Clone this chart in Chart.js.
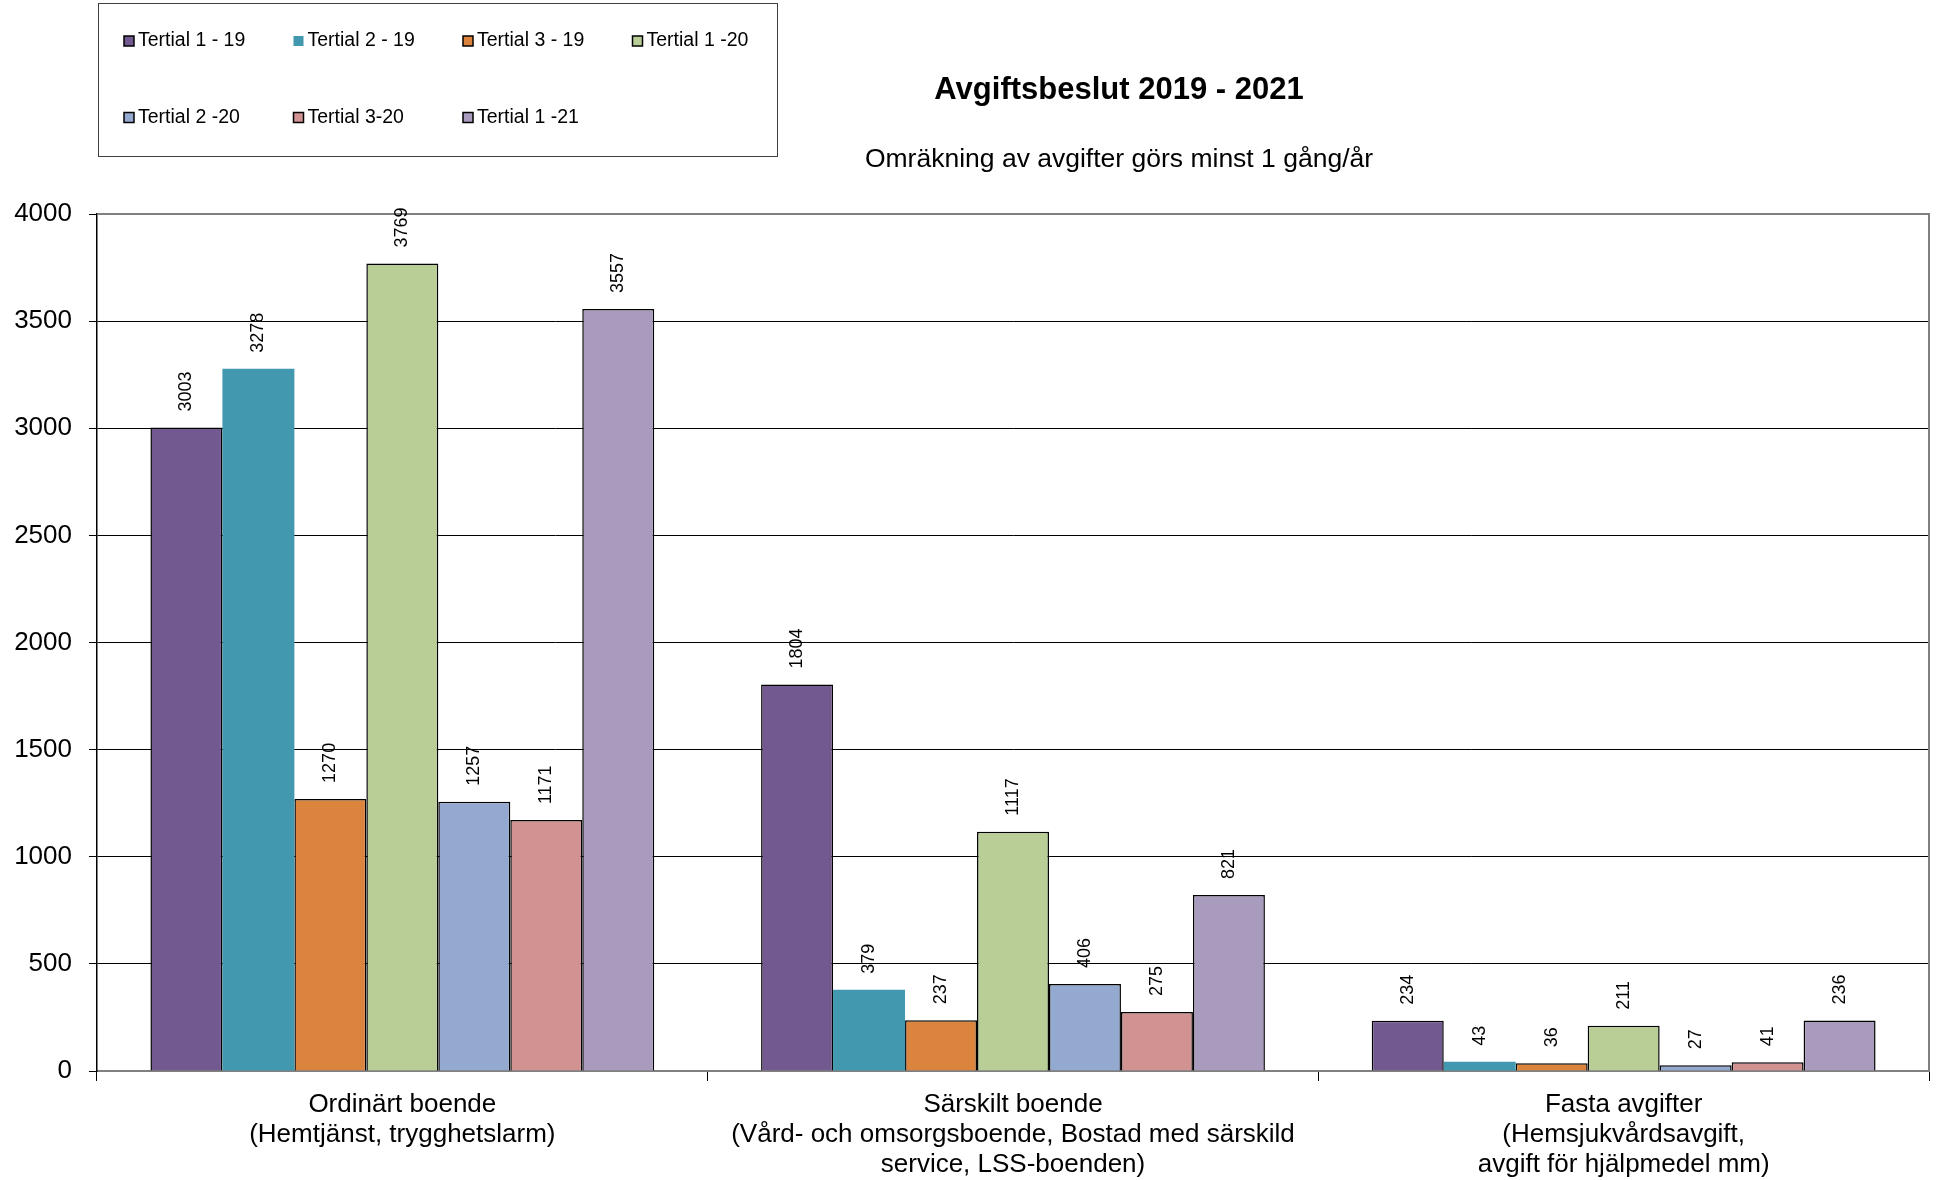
<!DOCTYPE html>
<html lang="sv">
  <head>
    <meta charset="UTF-8" />
    <title>Avgiftsbeslut 2019 - 2021</title>
    <script src="https://cdn.jsdelivr.net/npm/chart.js"></script>
    <style>
      html,
      body {
        margin: 0;
        padding: 0;
        background: #ffffff;
      }
      #wrap {
        width: 1939px;
        height: 1180px;
      }
    </style>
  </head>
  <body>
    <div id="wrap"><canvas id="grafAvgifter"></canvas></div>

    <script>
      // Kategorier (x-axeln)
      const kategorier = [
        ["Ordinärt boende", "(Hemtjänst, trygghetslarm)"],
        ["Särskilt boende", "(Vård- och omsorgsboende, Bostad med särskild", "service, LSS-boenden)"],
        ["Fasta avgifter", "(Hemsjukvårdsavgift,", "avgift för hjälpmedel mm)"],
      ];

      // Serier
      const serieNamn = [
        "Tertial 1 - 19",
        "Tertial 2 - 19",
        "Tertial 3 - 19",
        "Tertial 1 -20",
        "Tertial 2 -20",
        "Tertial 3-20",
        "Tertial 1 -21",
      ];
      const tertial1_19 = [3003, 1804, 234];
      const tertial2_19 = [3278, 379, 43];
      const tertial3_19 = [1270, 237, 36];
      const tertial1_20 = [3769, 1117, 211];
      const tertial2_20 = [1257, 406, 27];
      const tertial3_20 = [1171, 275, 41];
      const tertial1_21 = [3557, 821, 236];

      const yMin = 0;
      const yMax = 4000;
      const yStep = 500;

      const farger = ["#725990", "#4198af", "#db843d", "#b9cd96", "#93a9cf", "#d19392", "#a99bbd"];
      const serier = [tertial1_19, tertial2_19, tertial3_19, tertial1_20, tertial2_20, tertial3_20, tertial1_21];

      const FONT = "'Liberation Sans', Arial, sans-serif";

      // Rubrik, underrubrik, förklaring och värdeetiketter
      const ritaExtra = {
        id: "ritaExtra",
        afterDatasetsDraw(chart) {
          const ctx = chart.ctx;
          const area = chart.chartArea;
          ctx.save();

          // ram runt diagramytan (grå topp och höger)
          ctx.strokeStyle = "#808080";
          ctx.lineWidth = 2;
          ctx.beginPath();
          ctx.moveTo(area.left, area.top);
          ctx.lineTo(area.right, area.top);
          ctx.lineTo(area.right, area.bottom);
          ctx.stroke();

          // värdeetiketter, roterade
          ctx.fillStyle = "#000";
          ctx.font = "18px " + FONT;
          ctx.textAlign = "left";
          ctx.textBaseline = "middle";
          chart.data.datasets.forEach((ds, i) => {
            const meta = chart.getDatasetMeta(i);
            meta.data.forEach((bar, j) => {
              ctx.save();
              ctx.translate(bar.x, bar.y - 16);
              ctx.rotate(-Math.PI / 2);
              ctx.fillText(String(ds.data[j]), 0, 0);
              ctx.restore();
            });
          });

          // rubrik
          ctx.textAlign = "center";
          ctx.textBaseline = "alphabetic";
          ctx.font = "bold 31px " + FONT;
          ctx.fillText("Avgiftsbeslut 2019 - 2021", 1119, 99);
          ctx.font = "26.5px " + FONT;
          ctx.fillText("Omräkning av avgifter görs minst 1 gång/år", 1119, 167);

          // förklaring
          ctx.strokeStyle = "#404040";
          ctx.lineWidth = 1;
          ctx.strokeRect(98.5, 3.5, 679, 153);
          ctx.font = "19.5px " + FONT;
          ctx.textAlign = "left";
          ctx.textBaseline = "middle";
          chart.data.datasets.forEach((ds, i) => {
            const kol = i % 4;
            const rad = Math.floor(i / 4);
            const x = 124 + kol * 169.5;
            const y = 41 + rad * 76.5;
            ctx.fillStyle = ds.backgroundColor;
            ctx.fillRect(x, y - 5, 10, 10);
            if (ds.borderWidth > 0) {
              ctx.strokeStyle = "#000";
              ctx.lineWidth = 1.5;
              ctx.strokeRect(x, y - 5, 10, 10);
            }
            ctx.fillStyle = "#000";
            ctx.fillText(ds.label, x + 14, y);
          });

          ctx.restore();
        },
      };

      const datasets = serier.map((data, i) => ({
        label: serieNamn[i],
        data: data,
        backgroundColor: farger[i],
        borderColor: "#000000",
        borderWidth: i === 1 ? 0 : 1.5,
        borderSkipped: "bottom",
        categoryPercentage: 0.825,
        barPercentage: 1.0,
      }));

      new Chart(document.getElementById("grafAvgifter").getContext("2d"), {
        type: "bar",
        data: {
          labels: kategorier,
          datasets: datasets,
        },
        plugins: [ritaExtra],
        options: {
          responsive: true,
          maintainAspectRatio: false,
          animation: false,
          layout: {
            padding: { top: 214, right: 10, bottom: 0, left: 14 },
          },
          plugins: {
            legend: { display: false },
            title: { display: false },
            tooltip: { enabled: false },
          },
          scales: {
            x: {
              afterFit: (scale) => {
                scale.height = 109;
              },
              grid: {
                offset: true,
                drawOnChartArea: false,
                drawTicks: true,
                tickLength: 10,
                color: "#000000",
              },
              border: { color: "#808080", width: 2 },
              ticks: {
                color: "#000000",
                font: { family: FONT, size: 26, lineHeight: 1.15 },
                padding: 9,
                maxRotation: 0,
                autoSkip: false,
              },
            },
            y: {
              min: yMin,
              max: yMax,
              afterFit: (scale) => {
                scale.width = 83;
              },
              grid: {
                color: "#000000",
                lineWidth: 1,
                tickLength: 8,
              },
              border: { color: "#000000", width: 1.5 },
              ticks: {
                stepSize: yStep,
                color: "#000000",
                font: { family: FONT, size: 26 },
                padding: 17,
                callback: (v) => String(v),
              },
            },
          },
        },
      });
    </script>
  </body>
</html>
